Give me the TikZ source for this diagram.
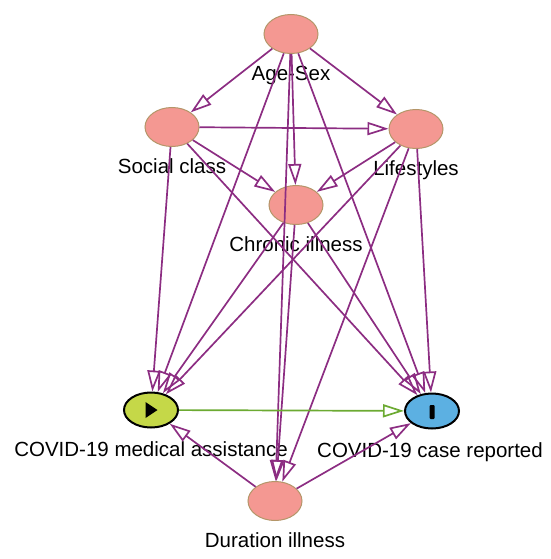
\documentclass[tikz,border=0pt]{standalone}
\usepackage{fontspec}
\setmainfont{Liberation Sans}
\usetikzlibrary{arrows.meta, positioning, shapes.geometric}

\definecolor{edgePurple}{RGB}{140,45,130}
\definecolor{nodePink}{RGB}{244,152,146}
\definecolor{pinkBorder}{RGB}{180,150,105}
\definecolor{exposureGreen}{RGB}{197,216,72}
\definecolor{outcomeBlue}{RGB}{92,176,226}
\definecolor{causalGreen}{RGB}{108,170,50}

\begin{document}
\begin{tikzpicture}[
        x=1pt, y=-1pt,
        font=\fontsize{20.5}{24}\selectfont,
        pinkNode/.style={ellipse, draw=pinkBorder, fill=nodePink, line width=1pt, minimum width=54pt, minimum height=39pt, inner sep=0pt},
        exposureNode/.style={ellipse, draw=black, fill=exposureGreen, line width=2pt, minimum width=54pt, minimum height=35pt, inner sep=0pt},
        outcomeNode/.style={ellipse, draw=black, fill=outcomeBlue, line width=2pt, minimum width=54pt, minimum height=35pt, inner sep=0pt},
        labelNode/.style={inner sep=0pt, text height=15pt, text depth=4pt},
        arrow/.style={-{Triangle[open, length=21pt, width=13pt]}, line width=1.7pt, draw=edgePurple},
        causalArrow/.style={-{Triangle[open, length=21pt, width=13pt]}, line width=1.7pt, draw=causalGreen}
    ]
        \useasboundingbox (0,0) rectangle (550,559);

        \node[pinkNode] (ageSex) at (291,34) {};
        \node[pinkNode] (socialClass) at (172,127) {};
        \node[pinkNode] (lifestyles) at (416,129) {};
        \node[pinkNode] (chronicIllness) at (296,205) {};
        \node[exposureNode] (medAssist) at (151,410) {};
        \node[outcomeNode] (caseReported) at (432,411) {};
        \node[pinkNode] (duration) at (275,501) {};

        \node[labelNode, below=11pt of ageSex] (ageSexLabel) {Age-Sex};
        \node[labelNode, below=11pt of socialClass] (socialClassLabel) {Social class};
        \node[labelNode, below=11pt of lifestyles] (lifestylesLabel) {Lifestyles};
        \node[labelNode, below=11pt of chronicIllness] (chronicIllnessLabel) {Chronic illness};
        \node[labelNode, below=13pt of medAssist] (medAssistLabel) {COVID-19 medical assistance};
        \node[labelNode, below=13pt of caseReported, xshift=-2pt] (caseReportedLabel) {COVID-19 case reported};
        \node[labelNode, below=11pt of duration] (durationLabel) {Duration illness};

        % exposure and outcome marks
        \fill ([xshift=-5.5pt,yshift=8pt]medAssist.center) -- ([xshift=6.5pt]medAssist.center) -- ([xshift=-5.5pt,yshift=-8pt]medAssist.center) -- cycle;
        \fill[rounded corners=1pt] ([xshift=-2.5pt,yshift=6pt]caseReported.center) rectangle ([xshift=2.5pt,yshift=-8pt]caseReported.center);

        \draw[arrow] (ageSex) -- (socialClass);
        \draw[arrow] (ageSex) -- (lifestyles);
        \draw[arrow] (ageSex) -- (chronicIllness);
        \draw[arrow] (ageSex) -- (medAssist);
        \draw[arrow] (ageSex) -- (caseReported);
        \draw[arrow] (ageSex) -- (duration);
        \draw[arrow] (socialClass) -- (lifestyles);
        \draw[arrow] (socialClass) -- (chronicIllness);
        \draw[arrow] (socialClass) -- (medAssist);
        \draw[arrow] (socialClass) -- (caseReported);
        \draw[arrow] (lifestyles) -- (chronicIllness);
        \draw[arrow] (lifestyles) -- (medAssist);
        \draw[arrow] (lifestyles) -- (caseReported);
        \draw[arrow] (lifestyles) -- (duration);
        \draw[arrow] (chronicIllness) -- (medAssist);
        \draw[arrow] (chronicIllness) -- (caseReported);
        \draw[arrow] (chronicIllness) -- (duration);
        \draw[arrow] (duration) -- (medAssist);
        \draw[arrow] (duration) -- (caseReported);
        \draw[causalArrow] (medAssist) -- (caseReported);
    \end{tikzpicture}
\end{document}
